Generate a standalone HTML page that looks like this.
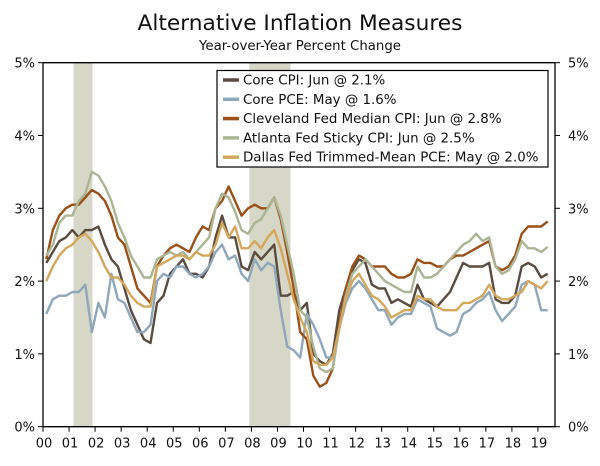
<!DOCTYPE html>
<html><head><meta charset="utf-8"><style>
body{margin:0;background:#fff;}
svg text{font-family:"DejaVu Sans","Liberation Sans",sans-serif;fill:#111;}
</style></head><body>
<svg id="chart" width="600" height="461" viewBox="0 0 600 461" xmlns="http://www.w3.org/2000/svg">
<text x="300" y="30" text-anchor="middle" font-size="21.7">Alternative Inflation Measures</text>
<text x="300" y="50" text-anchor="middle" font-size="13.3">Year-over-Year Percent Change</text>
<g id="rec"></g><g id="axes"></g><g id="lines"></g><g id="legend"></g>
</svg>
<script>
const recessions=[[2001.17,2001.9],[2007.92,2009.5]];
const yTicks=[0,1,2,3,4,5];
const yearLabels=["00","01","02","03","04","05","06","07","08","09","10","11","12","13","14","15","16","17","18","19"];
const seriesNames=["Core CPI: Jun @ 2.1%","Core PCE: May @ 1.6%","Cleveland Fed Median CPI: Jun @ 2.8%","Atlanta Fed Sticky CPI: Jun @ 2.5%","Dallas Fed Trimmed-Mean PCE: May @ 2.0%"];
const seriesColors=["#5a4b3f","#8ea7ba","#9a5018","#aab593","#d3a75c"];
const coreCPI=[2.25,2.4,2.55,2.6, 2.7,2.6,2.7,2.7, 2.75,2.5,2.3,2.2, 1.9,1.6,1.4,1.2, 1.15,1.7,1.8,2.1, 2.2,2.3,2.1,2.1, 2.05,2.2,2.6,2.9, 2.6,2.6,2.2,2.15, 2.4,2.3,2.4,2.5, 1.8,1.8,1.85,1.6, 1.7,1.0,0.9,0.85, 1.0,1.6,1.9,2.15, 2.3,2.25,1.95,1.9, 1.9,1.7,1.75,1.7, 1.65,1.95,1.75,1.7, 1.65,1.75,1.85,2.05, 2.25,2.2,2.2,2.2, 2.25,1.75,1.7,1.7, 1.8,2.2,2.25,2.2, 2.05,2.1];
const corePCE=[1.55,1.75,1.8,1.8, 1.85,1.85,1.95,1.3, 1.7,1.5,2.1,1.75, 1.7,1.5,1.3,1.3, 1.4,2.0,2.1,2.05, 2.2,2.2,2.1,2.05, 2.1,2.2,2.4,2.5, 2.3,2.35,2.1,2.0, 2.3,2.15,2.25,2.2, 1.6,1.1,1.05,0.95, 1.55,1.4,1.2,0.95, 0.95,1.35,1.7,1.9, 2.0,1.9,1.75,1.6, 1.6,1.4,1.5,1.55, 1.55,1.75,1.7,1.65, 1.35,1.3,1.25,1.3, 1.55,1.6,1.7,1.75, 1.85,1.6,1.45,1.55, 1.65,1.95,2.0,1.95, 1.6,1.6];
const clevelandMedian=[2.3,2.7,2.9,3.0, 3.05,3.05,3.15,3.25, 3.2,3.1,2.9,2.6, 2.5,2.2,1.9,1.8, 1.7,2.2,2.35,2.45, 2.5,2.45,2.4,2.6, 2.75,2.7,3.0,3.1, 3.3,3.1,2.9,3.0, 3.05,3.0,3.0,3.15, 2.85,2.4,1.9,1.3, 1.2,0.7,0.55,0.6, 0.8,1.4,1.9,2.2, 2.35,2.3,2.2,2.2, 2.2,2.1,2.05,2.05, 2.1,2.3,2.25,2.25, 2.2,2.2,2.3,2.35, 2.35,2.4,2.45,2.5, 2.55,2.2,2.15,2.2, 2.35,2.65,2.75,2.75, 2.75,2.82];
const atlantaSticky=[2.35,2.5,2.8,2.9, 2.9,3.1,3.2,3.5, 3.45,3.3,3.1,2.8, 2.6,2.35,2.2,2.05, 2.05,2.3,2.35,2.4, 2.35,2.4,2.3,2.4, 2.5,2.6,3.0,3.2, 3.15,2.95,2.7,2.65, 2.8,2.85,3.0,3.15, 2.9,2.5,2.1,1.6, 1.5,1.1,0.8,0.75, 0.8,1.35,1.8,2.1, 2.2,2.3,2.2,2.1, 2.0,1.95,1.9,1.85, 1.85,2.2,2.05,2.05, 2.1,2.2,2.3,2.4, 2.5,2.55,2.65,2.55, 2.6,2.2,2.1,2.15, 2.3,2.55,2.45,2.45, 2.4,2.47];
const dallasTrimmed=[2.0,2.2,2.35,2.45, 2.5,2.6,2.65,2.55, 2.4,2.2,2.05,2.05, 1.95,1.8,1.7,1.65, 1.65,2.2,2.25,2.3, 2.35,2.35,2.3,2.4, 2.35,2.35,2.5,2.8, 2.6,2.75,2.45,2.45, 2.55,2.45,2.6,2.7, 2.45,2.1,1.75,1.5, 1.3,0.9,0.85,0.85, 0.95,1.35,1.75,2.0, 2.1,1.95,1.8,1.75, 1.65,1.5,1.55,1.6, 1.6,1.8,1.75,1.75, 1.65,1.6,1.6,1.6, 1.7,1.7,1.75,1.8, 1.95,1.8,1.75,1.75, 1.8,1.85,2.0,1.95, 1.9,2.0];
const allSeries=[coreCPI,corePCE,clevelandMedian,atlantaSticky,dallasTrimmed];

const NS="http://www.w3.org/2000/svg";
const L=43,R=555,T=62.7,B=426.7;
const xS=yr=>L+(yr-2000)*26.05;
const yS=v=>B-(v/5)*(B-T);
function mk(tag,attrs,parent){const e=document.createElementNS(NS,tag);for(const k in attrs)e.setAttribute(k,attrs[k]);parent.appendChild(e);return e;}
const rec=document.getElementById('rec'),ax=document.getElementById('axes'),ln=document.getElementById('lines'),lg=document.getElementById('legend');
recessions.forEach((r,i)=>{const e=mk('rect',{x:xS(r[0]),y:T,width:xS(r[1])-xS(r[0]),height:B-T,fill:'#d7d7c7'},rec);

});
let a=mk('path',{d:`M${L},${T}H${R}M${L},${T}V${B}H${R}V${T}`,stroke:'#000','stroke-width':1.3,fill:'none'},ax);


yTicks.forEach(v=>{const y=yS(v);
mk('line',{x1:L-5,x2:L,y1:y,y2:y,stroke:'#000'},ax);mk('line',{x1:R,x2:R+5,y1:y,y2:y,stroke:'#000'},ax);
const t1=mk('text',{x:35,y:y+5,'text-anchor':'end','font-size':13},ax);t1.textContent=v+'%';


const t2=mk('text',{x:568,y:y+5,'font-size':13},ax);t2.textContent=v+'%';

});
yearLabels.forEach((lab,i)=>{const x=xS(2000+i);
mk('line',{x1:x,x2:x,y1:B,y2:B+5,stroke:'#000'},ax);
const t=mk('text',{x:x+1,y:B+21,'text-anchor':'middle','font-size':13},ax);t.textContent=lab;

});
allSeries.forEach((s,si)=>{const d=s.map((v,i)=>(i?'L':'M')+xS(2000+(i*3+1.5)/12).toFixed(1)+','+yS(v).toFixed(1)).join('');
const p=mk('path',{d:d,fill:'none',stroke:seriesColors[si],'stroke-width':2.4,'stroke-linejoin':'round'},ln);

});
const box=mk('rect',{x:217,y:70.5,width:331,height:96.5,fill:'#fff',stroke:'#000','stroke-width':1.2},lg);


seriesNames.forEach((n,i)=>{const y=80+i*19.3;
mk('line',{x1:223,x2:239,y1:y,y2:y,stroke:seriesColors[i],'stroke-width':3.5},lg);
const t=mk('text',{x:243,y:y+4.5,'font-size':13.4},lg);t.textContent=n;

});
</script>
</body></html>
